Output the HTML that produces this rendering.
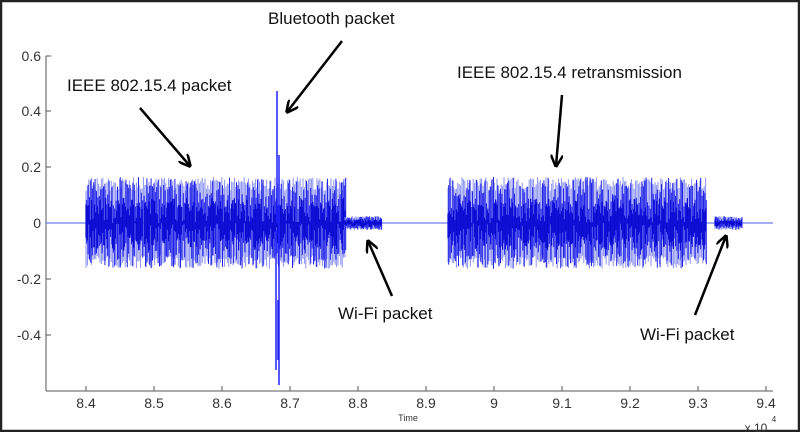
<!DOCTYPE html>
<html><head><meta charset="utf-8"><style>
html,body{margin:0;padding:0;background:#fff;}
svg{display:block;}
text{font-family:"Liberation Sans",sans-serif;}
</style></head><body>
<svg id="s" width="800" height="432" viewBox="0 0 800 432" xmlns="http://www.w3.org/2000/svg">
<rect x="1" y="1" width="798" height="430" fill="#fff" stroke="#222" stroke-width="2.5"/>
<g stroke="#555" stroke-width="1" fill="none">
<line x1="46" y1="56" x2="46" y2="391"/>
<line x1="46" y1="391" x2="773" y2="391"/>
<line x1="46" y1="56" x2="51" y2="56"/><line x1="46" y1="111" x2="51" y2="111"/>
<line x1="46" y1="167" x2="51" y2="167"/><line x1="46" y1="223" x2="51" y2="223"/>
<line x1="46" y1="279" x2="51" y2="279"/><line x1="46" y1="335" x2="51" y2="335"/>
<line x1="86" y1="391" x2="86" y2="386"/><line x1="154" y1="391" x2="154" y2="386"/>
<line x1="222" y1="391" x2="222" y2="386"/><line x1="290" y1="391" x2="290" y2="386"/>
<line x1="358" y1="391" x2="358" y2="386"/><line x1="426" y1="391" x2="426" y2="386"/>
<line x1="494" y1="391" x2="494" y2="386"/><line x1="562" y1="391" x2="562" y2="386"/>
<line x1="630" y1="391" x2="630" y2="386"/><line x1="698" y1="391" x2="698" y2="386"/>
<line x1="766" y1="391" x2="766" y2="386"/>
</g>
<g font-size="14" fill="#333" text-anchor="end">
<text x="41" y="61">0.6</text><text x="41" y="116">0.4</text><text x="41" y="172">0.2</text>
<text x="41" y="228">0</text><text x="41" y="284">-0.2</text><text x="41" y="340">-0.4</text>
</g>
<g font-size="14" fill="#333" text-anchor="middle">
<text x="86" y="408">8.4</text><text x="154" y="408">8.5</text><text x="222" y="408">8.6</text>
<text x="290" y="408">8.7</text><text x="358" y="408">8.8</text><text x="426" y="408">8.9</text>
<text x="494" y="408">9</text><text x="562" y="408">9.1</text><text x="630" y="408">9.2</text>
<text x="698" y="408">9.3</text><text x="766" y="408">9.4</text>
<text x="408" y="421" font-size="9">Time</text>
<text x="756" y="432" font-size="12">x 10</text><text x="774" y="422" font-size="8">4</text>
</g>
<line x1="46" y1="223" x2="773" y2="223" stroke="#4a5cf0" stroke-width="1"/>
<g id="sig"></g>
<g font-size="17" fill="#111">
<text x="67" y="91">IEEE 802.15.4 packet</text>
<text x="268" y="24">Bluetooth packet</text>
<text x="457" y="78">IEEE 802.15.4 retransmission</text>
<text x="338" y="319">Wi-Fi packet</text>
<text x="640" y="340">Wi-Fi packet</text>
</g>
<defs><marker id="a" viewBox="0 0 10 10" refX="9" refY="5" markerWidth="5" markerHeight="5" orient="auto"><path d="M0,0 L10,5 L0,10" fill="none" stroke="#000" stroke-width="2"/></marker></defs>
<g stroke="#000" stroke-width="2.5" fill="none" marker-end="url(#a)">
<line x1="140" y1="108" x2="190" y2="166"/>
<line x1="342" y1="41" x2="287" y2="112"/>
<line x1="562" y1="95" x2="556" y2="166"/>
<line x1="392" y1="296" x2="368" y2="241"/>
<line x1="695" y1="315" x2="726" y2="236"/>
</g>
</svg>
<script>
var seed=7;function r(){seed=(seed*16807)%2147483647;return seed/2147483647;}
var g=document.getElementById('sig'),ns='http://www.w3.org/2000/svg';
function add(d,c,w){var e=document.createElementNS(ns,'path');e.setAttribute('d',d);e.setAttribute('stroke',c);e.setAttribute('stroke-width',w);e.setAttribute('fill','none');g.appendChild(e);}
function pk(x0,x1,amp,step){var dl='',dd='',dc='';for(var x=x0;x<=x1;x+=step){var a=amp*(0.7+0.3*r()),b=amp*(0.7+0.3*r());dl+='M'+x.toFixed(1)+','+(223-a).toFixed(1)+'V'+(223+b).toFixed(1);
var t=amp*(0.3+0.7*r()),u=amp*(0.3+0.7*r());dd+='M'+(x+step/2).toFixed(1)+','+(223-t).toFixed(1)+'V'+(223+u).toFixed(1);
dc+='M'+x.toFixed(1)+','+(223-amp*0.55*r()).toFixed(1)+'V'+(223+amp*0.6*r()).toFixed(1);}
add(dl,'#8a92f2',1);add(dd,'#2323e8',1);add(dc,'#0b0bd0',1.2);}
pk(86,345,46,1.4);pk(448,706,46,1.4);pk(345,381,7,1.2);pk(715,742,7,1.2);
add('M277,91V223M279,155V385M276,230V370M278,300V360','#2020ff',1.5);
</script>
</body></html>
